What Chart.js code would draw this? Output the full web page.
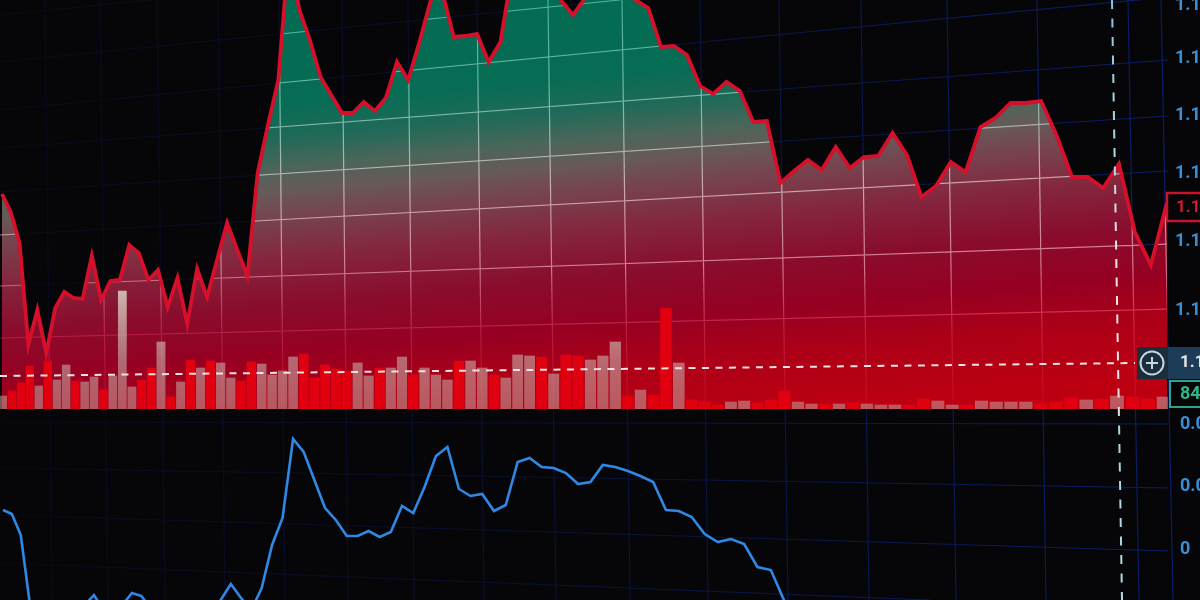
<!DOCTYPE html>
<html><head><meta charset="utf-8">
<style>
html,body{margin:0;padding:0;background:#060608;overflow:hidden}
#a,#b{position:absolute;left:0;display:block}
#a{top:0}#b{top:409px}
</style>
<script src="https://cdn.jsdelivr.net/npm/chart.js@4"></script>
</head><body>
<canvas id="a" width="1200" height="409"></canvas>
<canvas id="b" width="1200" height="191"></canvas>
<script>
const prices=[1.1306,1.1288,1.1257,1.1155,1.1190,1.1147,1.1192,1.1208,1.1202,1.1201,
1.1244,1.1200,1.1219,1.1220,1.1255,1.1247,1.1220,1.1230,1.1193,1.1222,
1.1176,1.1231,1.1203,1.1240,1.1277,1.1250,1.1224,1.1327,1.1375,1.1420,
1.1550,1.1490,1.1460,1.1423,1.1405,1.1387,1.1387,1.1398,1.1389,1.1402,
1.1438,1.1420,1.1458,1.1500,1.1508,1.1463,1.1464,1.1466,1.1438,1.1458,
1.1530,1.1525,1.1525,1.1520,1.1500,1.1485,1.1502,1.1515,1.1520,1.1515,
1.1500,1.1492,1.1453,1.1454,1.1445,1.1414,1.1406,1.1418,1.1409,1.1378,
1.1379,1.1317,1.1329,1.1340,1.1330,1.1353,1.1332,1.1343,1.1344,1.1367,
1.1345,1.1303,1.1314,1.1338,1.1328,1.1373,1.1382,1.1397,1.1397,1.1399,
1.1365,1.1323,1.1323,1.1312,1.1336,1.1268,1.1235,1.1297];
const volumes=[13,18,26,43,23,48,29,44,28,27,32,19,33,118,22,29,41,67,12,27,
49,41,48,46,31,28,47,45,34,38,52,55,31,44,40,38,46,33,41,41,
52,34,41,34,29,48,48,41,34,31,54,53,52,35,54,53,49,53,67,13,
19,14,101,46,9,7,4,7,8,6,9,18,7,5,5,5,6,5,4,4,
4,10,8,4,4,8,7,7,7,6,7,11,9,10,13,12,10,12];
const volumeIsRed=[0,1,1,1,0,1,0,0,1,0,0,1,0,0,0,1,1,0,1,0,
1,0,1,0,0,1,1,0,0,0,0,1,1,1,1,1,0,0,1,0,
0,1,0,0,0,1,0,0,1,0,0,0,1,0,1,1,0,0,0,1,
0,1,1,0,1,1,1,0,0,1,1,1,0,0,1,0,1,0,0,0,
1,1,0,0,1,0,0,0,0,1,1,1,0,1,0,1,1,0];
const oscillator=[.00624,.0056,.00224,-.00864,-.01296,-.01456,-.01216,-.01056,-.01008,-.00896,
-.00736,-.00976,-.00848,-.00896,-.00704,-.00752,-.00976,-.01056,-.01216,-.01056,
-.01296,-.00976,-.01056,-.00816,-.0056,-.00784,-.00976,-.00624,.00064,.00496,
.0176,.01552,.01104,.00656,.00464,.00208,.00208,.00288,.00192,.00272,
.00688,.00576,.00992,.01488,.01632,.0096,.00848,.0088,.00608,.00704,
.01392,.01456,.01312,.01296,.01216,.0104,.01072,.01344,.01312,.01248,
.01168,.01072,.00624,.00608,.00512,.0024,.00112,.0016,.0008,-.00288,
-.00336,-.00832,-.01456,null,null,null,null,null,null,null,
null,null,null,null,null,null,null,null,null,null,
null,null,null,null,null,null,null,null];
const categories=prices.map((_,i)=>String(i+1));
const priceTicks=[1.1495,1.1442,1.1385,1.1327,1.1259,1.1190];
const priceTickLabels=['1.145','1.140','1.135','1.130','1.125','1.120'];
const oscTicks=[0.02,0.01,0];
const oscTickLabels=['0.02','0.01','0'];
const crosshairPrice=1.1130;
const lastVolumeLabel='84';

/* camera perspective: bars and the line sit on slightly different planes.
   Chart.js groups bars per x axis id, so xBar is moved by a quarter of a slot to recentre them. */
const curves={xBar:[.79,8.82,.02585,6.6e-5],xOsc:[3,8.833,.0259,6.6e-5],xLine:[2,8.723,.02522,8.93e-5]};
const AREA_W=1168;
class PerspectiveScale extends Chart.CategoryScale{
  getPixelForDecimal(d){
    const c=curves[this.id], i=d*(categories.length-1);
    return super.getPixelForDecimal((c[0]+c[1]*i+c[2]*i*i+c[3]*i*i*i)/AREA_W);
  }
}
PerspectiveScale.id='perspective';
PerspectiveScale.defaults=Chart.CategoryScale.defaults;
Chart.register(PerspectiveScale);

const hLines=[[0,15,150,0],[0,62,620,0],[0,110,1168,-3],[0,148,1168,60],[0,192,1168,116],
[0,235,1168,171],[0,286,1168,244],[0,338,1168,309],
[0,422,1168,424],[0,468,1168,488],[0,515,1168,551],[0,563,930,600]];
const vLines=[[45,52],[100,108],[157,165],[218,225],[279,285],[342,348],[408,414],[477,484],[548,556],[622,630],
[700,708],[779,788],[861,869],[947,956],[1037,1046],[1128,1139],[1161,1173]];

function strokeGrid(ctx){
  ctx.lineWidth=1.2;
  ctx.beginPath();
  hLines.forEach(l=>{ctx.moveTo(l[0],l[1]);ctx.lineTo(l[2],l[3]);});
  vLines.forEach(v=>{ctx.moveTo(v[0],0);ctx.lineTo(v[1],600);});
  ctx.stroke();
}
function gridPlugin(offsetY){return{id:'blueGrid',beforeDatasetsDraw(chart){
  const ctx=chart.ctx;ctx.save();ctx.translate(0,-offsetY);
  const g=ctx.createLinearGradient(0,0,1200,0);
  g.addColorStop(0,'rgba(15,35,120,.16)');g.addColorStop(.45,'rgba(15,40,140,.32)');g.addColorStop(1,'rgba(15,45,165,.62)');
  ctx.strokeStyle=g;strokeGrid(ctx);ctx.restore();
}}}
function crossV(chart,offsetY){
  const ctx=chart.ctx;ctx.save();ctx.translate(0,-offsetY);
  const g=ctx.createLinearGradient(0,0,0,600);
  g.addColorStop(0,'#8ac4da');g.addColorStop(.3,'#b5dce8');g.addColorStop(.42,'#f2e4e6');g.addColorStop(.68,'#f2e4e6');g.addColorStop(.72,'#a8d2e2');g.addColorStop(1,'#b8d8e4');
  ctx.strokeStyle=g;ctx.lineWidth=2;ctx.setLineDash([9,9.5]);
  ctx.beginPath();ctx.moveTo(1112,0);ctx.lineTo(1122,600);ctx.stroke();ctx.restore();
}
const whiteGrid={id:'whiteGrid',afterDatasetDraw(chart,args){
  if(args.index!==0)return;
  const ctx=chart.ctx,pts=chart.getDatasetMeta(0).data;
  ctx.save();ctx.beginPath();ctx.moveTo(pts[0].x,408);
  ctx.lineTo(0,408);ctx.lineTo(0,pts[0].y);
  pts.forEach(p=>ctx.lineTo(p.x,p.y));
  ctx.lineTo(pts[pts.length-1].x,408);ctx.closePath();ctx.clip();
  const g=ctx.createLinearGradient(0,0,0,409);
  g.addColorStop(0,'rgba(150,240,225,.5)');g.addColorStop(.22,'rgba(190,245,235,.55)');
  g.addColorStop(.45,'rgba(255,240,240,.6)');g.addColorStop(.65,'rgba(255,195,215,.6)');
  g.addColorStop(.82,'rgba(255,70,125,.35)');g.addColorStop(1,'rgba(255,70,125,.1)');
  ctx.strokeStyle=g;strokeGrid(ctx);ctx.restore();
}};
const overlay={id:'overlay',afterDraw(chart){
  const ctx=chart.ctx,yS=chart.scales.y;
  crossV(chart,0);
  const yC=yS.getPixelForValue(crosshairPrice);
  ctx.save();
  ctx.strokeStyle='#f3e2e4';ctx.lineWidth=2;ctx.setLineDash([7,6.5]);
  ctx.beginPath();ctx.moveTo(0,yC+6);ctx.lineTo(1135,yC-7);ctx.stroke();ctx.setLineDash([]);
  /* last price tag */
  const yP=207;
  ctx.fillStyle='#060608';ctx.fillRect(1167,193,40,28);
  ctx.strokeStyle='#c8142e';ctx.lineWidth=2.5;ctx.strokeRect(1167,193,40,28);
  ctx.textBaseline='middle';ctx.textAlign='left';ctx.font='700 17px Roboto';
  ctx.fillStyle='#d01a34';ctx.fillText(prices[prices.length-1].toFixed(4),1176,yP+1);
  /* crosshair tag */
  ctx.fillStyle='#1b2e3e';ctx.fillRect(1137,347,31,32);
  ctx.fillStyle='#1d3c57';ctx.fillRect(1168,347,32,32);
  ctx.fillStyle='#e6e6e2';ctx.fillText(crosshairPrice.toFixed(4),1180,363);
  ctx.strokeStyle='#c9d6dc';ctx.lineWidth=2;
  ctx.beginPath();ctx.arc(1152,363,11.5,0,Math.PI*2);ctx.moveTo(1146,363);ctx.lineTo(1158,363);ctx.moveTo(1152,357);ctx.lineTo(1152,369);ctx.stroke();
  /* volume tag */
  ctx.fillStyle='#060608';ctx.fillRect(1169,381,40,27);
  ctx.strokeStyle='#2ba58a';ctx.lineWidth=2;ctx.strokeRect(1170,381,40,26);
  ctx.fillStyle='#2fb58c';ctx.font='700 18px Roboto';ctx.fillText(lastVolumeLabel,1180,394);
  ctx.restore();
}};
const ctxA=document.getElementById('a').getContext('2d');
const fillG=ctxA.createLinearGradient(0,0,42.9,476);
[[0,'#006c52'],[.27,'#076c54'],[.34,'#1f6a58'],[.40,'#4a665a'],[.45,'#675a58'],[.50,'#754650'],
 [.59,'#84263e'],[.69,'#8a0c2c'],[.79,'#960022'],[.88,'#ac0018'],[1,'#bc0012']].forEach(s=>fillG.addColorStop(s[0],s[1]));
const greyG=ctxA.createLinearGradient(0,0,0,409);
greyG.addColorStop(.7,'rgba(226,220,204,.82)');greyG.addColorStop(.88,'rgba(200,180,174,.58)');greyG.addColorStop(1,'rgba(190,155,152,.56)');

function yAxis(min,max,vals,labels,pad){return{
  type:'linear',position:'right',min,max,
  grid:{display:false,drawTicks:false},border:{display:false},
  afterBuildTicks(s){s.ticks=vals.map(v=>({value:v}));},
  afterFit(s){s.width=32;s.paddingTop=0;s.paddingBottom=0;},
  ticks:{autoSkip:false,padding:pad,color:'#3a8fd4',font:{family:'Roboto',size:18,weight:'700'},
    callback(v){const i=vals.indexOf(v);return i<0?'':labels[i];}}
}}
const base={responsive:false,animation:false,devicePixelRatio:1,layout:{padding:0},
  plugins:{legend:{display:false},title:{display:false},tooltip:{enabled:false}},events:[]};
const hiddenX=()=>({type:'perspective',display:false,offset:false,grid:{display:false}});

new Chart(ctxA,{type:'bar',data:{labels:categories,datasets:[
 {type:'line',label:'Price fill',data:prices,xAxisID:'xLine',yAxisID:'y',order:3,
  fill:'start',backgroundColor:fillG,borderWidth:0,pointRadius:0,tension:0},
 {type:'bar',label:'Volume',data:volumes,xAxisID:'xBar',yAxisID:'v',order:2,
  backgroundColor:volumeIsRed.map(r=>r?'#e0000f':greyG),barThickness:'flex',categoryPercentage:1,barPercentage:1.7},
 {type:'line',label:'Price',data:prices,xAxisID:'xLine',yAxisID:'y',order:1,
  fill:false,borderColor:'#d60f2b',borderWidth:3.8,borderJoinStyle:'miter',pointRadius:0,tension:0}
]},options:{...base,scales:{
  xBar:hiddenX(),xLine:hiddenX(),
  y:yAxis(1.1091,1.15,priceTicks,priceTickLabels,7),
  v:{type:'linear',display:false,min:0,max:409,grid:{display:false}}
}},plugins:[gridPlugin(0),whiteGrid,overlay]});

new Chart(document.getElementById('b').getContext('2d'),{type:'line',data:{labels:categories,datasets:[
 {label:'Oscillator',data:oscillator,xAxisID:'xOsc',yAxisID:'y',borderColor:'#2f88e4',borderWidth:2.6,pointRadius:0,tension:0,fill:false}
]},options:{...base,scales:{
  xOsc:hiddenX(),
  y:yAxis(-.00816,.0224,oscTicks,oscTickLabels,12)
}},plugins:[gridPlugin(409),{id:'cross',afterDraw(c){crossV(c,409);}}]});
</script>
</body></html>
